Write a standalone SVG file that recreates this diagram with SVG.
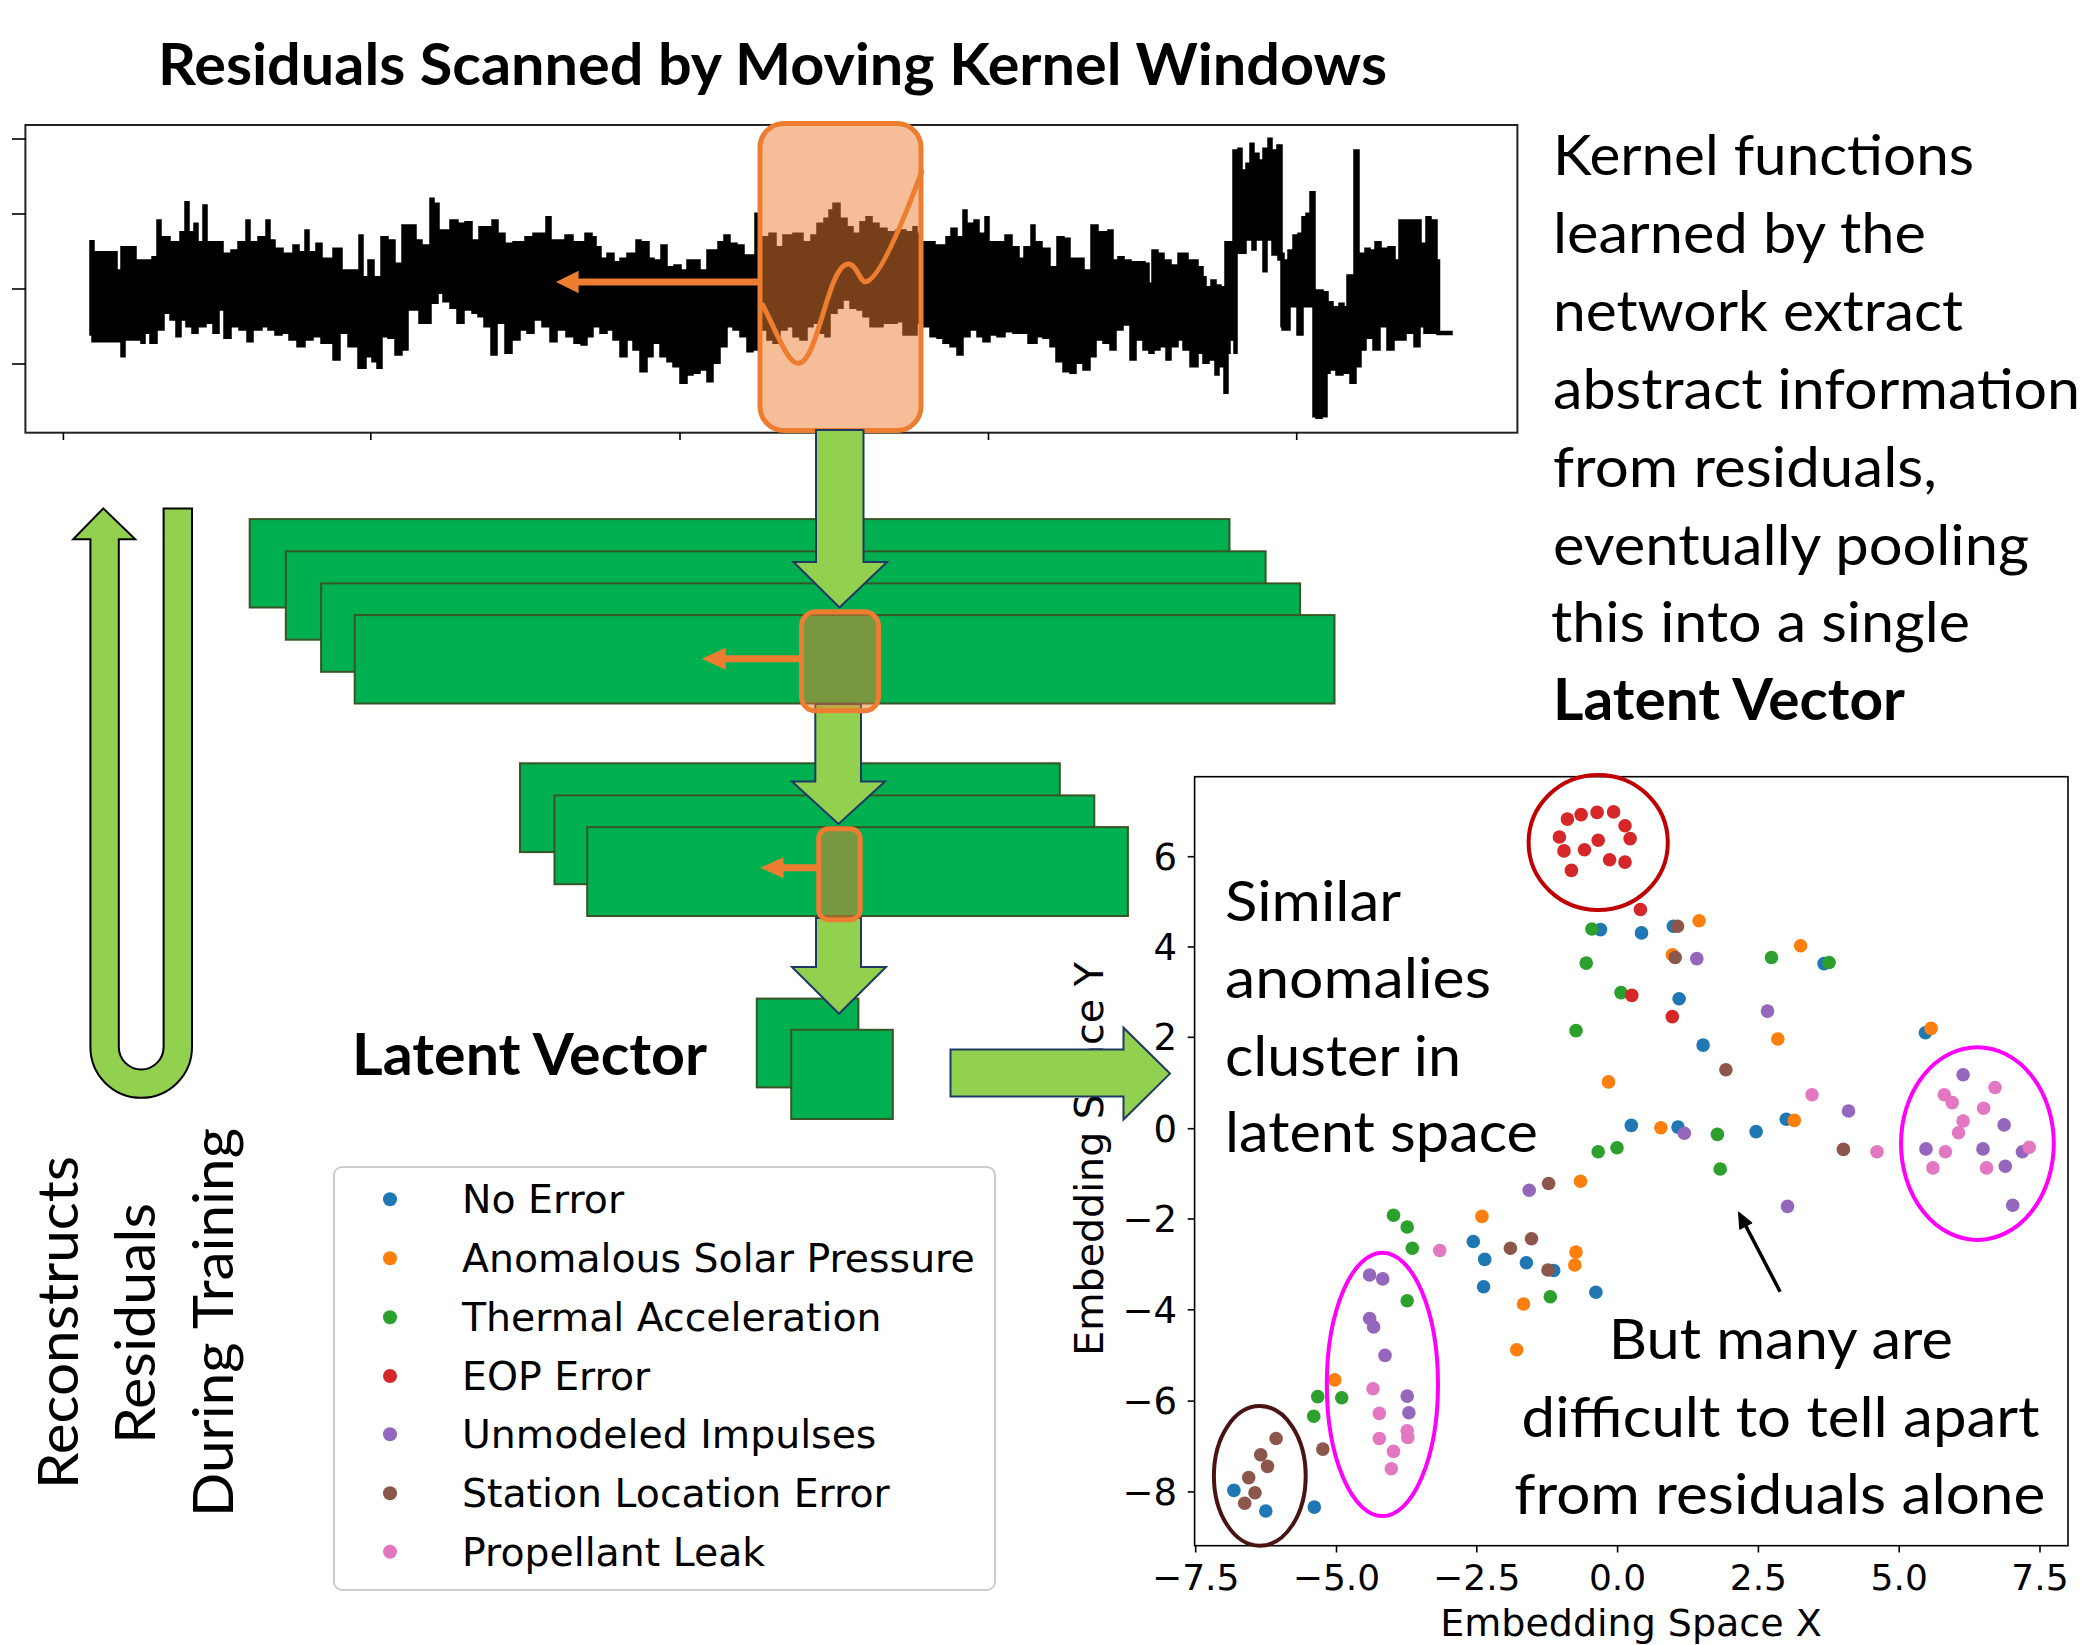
<svg xmlns="http://www.w3.org/2000/svg" width="2084" height="1645" viewBox="0 0 2084 1645">
<defs>
<style>
.cal{font-family:Lato,'Open Sans',sans-serif;font-size:57px;fill:#000}
.calb{font-family:Lato,'Open Sans',sans-serif;font-size:57px;font-weight:bold;fill:#000}
.dv{font-family:'DejaVu Sans',sans-serif;fill:#000}
.lay{fill:#00B050;stroke:#375623;stroke-width:2}
.garr{fill:#92D050;stroke:#1F3864;stroke-width:2;stroke-linejoin:miter}
.win{fill:#ED7D31;fill-opacity:0.5;stroke:#ED7D31;stroke-width:5}
.oarr{fill:#ED7D31}
.tick{stroke:#000;stroke-width:1.6}
.c0{fill:#1f77b4}.c1{fill:#ff7f0e}.c2{fill:#2ca02c}.c3{fill:#d62728}.c4{fill:#9467bd}.c5{fill:#8c564b}.c6{fill:#e377c2}
</style>
<clipPath id="axclip"><rect x="1194.6" y="776.7" width="873.4" height="769"/></clipPath>
</defs>
<rect width="2084" height="1645" fill="#fff"/>

<g id="title">
<text class="calb" x="158" y="85" textLength="1229" lengthAdjust="spacingAndGlyphs">Residuals Scanned by Moving Kernel Windows</text>
</g>

<g id="residual-plot">
<rect x="25.4" y="125" width="1492" height="307.7" fill="none" stroke="#222" stroke-width="2"/>
<g class="tick">
<line x1="12" y1="139" x2="25.4" y2="139"/><line x1="12" y1="214" x2="25.4" y2="214"/><line x1="12" y1="289" x2="25.4" y2="289"/><line x1="12" y1="364" x2="25.4" y2="364"/>
<line x1="63.4" y1="432.7" x2="63.4" y2="440"/><line x1="370.8" y1="432.7" x2="370.8" y2="440"/><line x1="680" y1="432.7" x2="680" y2="440"/><line x1="988.5" y1="432.7" x2="988.5" y2="440"/><line x1="1296.7" y1="432.7" x2="1296.7" y2="440"/>
</g>
<path id="waveform" fill="#000" stroke="#000" stroke-width="1.5" d="M90,335 V240.7 H94 V251.7 H117 V270 H121 V246.7 H136 V260 H152 V256.7 H157 V220 H161 V236.7 H170 V241.7 H180 V231.7 H185 V201.7 H189 V231.7 H194 V223.3 H198 V241.7 H203 V205 H207 V241.7 H223 V253.3 H231 V250 H238 V241.7 H246 V220 H250 V241.7 H258 V236.7 H266 V220 H270 V240 H275 V248.3 H283 V253.3 H293 V245 H299 V251.7 H305 V230 H309 V251.7 H316 V243.3 H322 V258.3 H333 V248.3 H342 V270 H359 V235 H363 V276.7 H368 V260 H374 V276.7 H381 V236.7 H388 V240 H395 V263.3 H402 V225 H416 V240 H422 V245 H430 V198.3 H434 V203.3 H439 V230 H450 V220 H458 V223.3 H465 V221.7 H472 V240 H479 V226.7 H492 V220 H498 V233.3 H505 V243.3 H513 V241.7 H525 V236.7 H533 V233.3 H546 V216.7 H551 V240 H565 V235 H573 V241.7 H585 V233.3 H592 V236.7 H596 V246.7 H601 V258.3 H607 V253.3 H614 V261.7 H620 V258.3 H627 V253.3 H636 V240 H641 V241.7 H649 V258.3 H654 V260 H661 V245 H667 V266.7 H674 V265 H681 V270 H687 V260 H700 V270 H707 V250 H718 V241.7 H724 V235 H730 V243.3 H737 V245 H744 V255 H755 V213.3 H758 V236.7 H769 V233.3 H776 V246.7 H783 V235 H793 V233.3 H803 V241.7 H811 V235 H817 V223.3 H824 V218.3 H829 V210 H833 V203.3 H840 V218.3 H847 V226.7 H853 V233.3 H860 V221.7 H866 V216.7 H872 V223.3 H879 V228.3 H887 V231.7 H896 V230 H906 V231.7 H913 V226.7 H917 V233.3 H922 V241.7 H935 V245 H946 V236.7 H951 V228.3 H957 V236.7 H963 V210 H967 V223.3 H974 V220 H979 V233.3 H985 V216.7 H989 V241.7 H1005 V235 H1012 V246.7 H1019 V258.3 H1024 V246.7 H1031 V225 H1035 V241.7 H1042 V248.3 H1050 V266.7 H1057 V236.7 H1064 V238.3 H1070 V258.3 H1084 V270 H1091 V225 H1098 V231.7 H1108 V230 H1113 V260 H1118 V256.7 H1124 V260 H1131 V261.7 H1145 V263.3 H1149 V283.3 H1152 V250 H1158 V253.3 H1164 V260 H1171 V265 H1178 V253.3 H1188 V260 H1198 V266.7 H1203 V276.7 H1206 V286.7 H1211 V280 H1216 V285 H1221 V286.7 H1225 V241.7 H1233 V150 H1238 V148.3 H1242 V170 H1246 V163.3 H1250 V143.3 H1254 V153.3 H1259 V160 H1263 V148.3 H1268 V138.3 H1272 V150 H1277 V145 H1282 V253.3 H1284 V260 H1288 V250 H1293 V235 H1298 V233.3 H1302 V216.7 H1306 V213.3 H1310 V191.7 H1315 V290 H1323 V291.7 H1328 V301.7 H1333 V306.7 H1339 V303.3 H1344 V306.7 H1347 V275 H1354 V150 H1359 V253.3 H1365 V248.3 H1370 V250 H1375 V241.7 H1381 V248.3 H1388 V246.7 H1395 V260 H1399 V220 H1421 V243.3 H1426 V216.7 H1431 V220 H1437 V260 H1439.5 V331.5 H1452 V334.5 H1437 V333.3 H1424 V326.7 H1420 V346.7 H1414 V333.3 H1406 V340 H1394 V350 H1387 V326.7 H1380 V350 H1373 V338.3 H1366 V350 H1361 V366.7 H1356 V383.3 H1350 V373.3 H1343 V375 H1336 V370 H1330 V373.3 H1327 V416.7 H1322 V418.3 H1316 V416.7 H1313 V306.7 H1303 V335 H1297 V306.7 H1290 V330 H1282 V326.7 H1281 V260 H1278 V255 H1272 V240 H1267 V271.7 H1263 V240 H1256 V250 H1252 V240 H1246 V253.3 H1237 V353.3 H1234 V340 H1230 V353.3 H1228 V393.3 H1224 V366.7 H1219 V375 H1215 V360 H1209 V363.3 H1203 V353.3 H1198 V366.7 H1190 V350 H1183 V340 H1178 V346.7 H1171 V360 H1166 V346.7 H1160 V350 H1154 V353.3 H1149 V350 H1143 V340 H1136 V360 H1130 V325 H1123 V330 H1116 V350 H1110 V343.3 H1103 V340 H1096 V356.7 H1090 V370 H1083 V363.3 H1076 V373.3 H1070 V371.7 H1063 V361.7 H1056 V346.7 H1050 V338.3 H1043 V336.7 H1037 V343.3 H1028 V333.3 H1013 V331.7 H1005 V336.7 H997 V335 H990 V341.7 H983 V336.7 H977 V330 H970 V336.7 H963 V355 H957 V346.7 H950 V343.3 H943 V338.3 H937 V336.7 H930 V326.7 H923 V323.3 H917 V335 H903 V321.7 H897 V323.3 H883 V326.7 H870 V316.7 H863 V310 H857 V308.3 H850 V300 H843 V308.3 H837 V313.3 H830 V336.7 H825 V333.3 H820 V323.3 H813 V326.7 H807 V340 H800 V336.7 H793 V326.7 H787 V330 H780 V343.3 H773 V340 H767 V330 H759 V350 H753 V351.7 H747 V336.7 H740 V330 H733 V326.7 H727 V346.7 H720 V363.3 H713 V381.7 H707 V370 H700 V373.3 H693 V375 H687 V383.3 H680 V366.7 H673 V361.7 H667 V356.7 H660 V343.3 H653 V356.7 H647 V371.7 H640 V350 H633 V340 H627 V356.7 H620 V340 H613 V330 H607 V333.3 H600 V326.7 H593 V336.7 H587 V345 H581 V343.3 H574 V336.7 H566 V330 H557 V341.7 H550 V326.7 H542 V320 H534 V333.3 H527 V330 H520 V340 H512 V353.3 H505 V323.3 H497 V355 H491 V326.7 H484 V316.7 H478 V313.3 H472 V310 H464 V323.3 H457 V308.3 H450 V301.7 H443 V293.3 H438 V303.3 H431 V323.3 H419 V310 H408 V350 H402 V355 H395 V338.3 H388 V336.7 H382 V368.3 H377 V361.7 H372 V356.7 H366 V368.3 H358 V346.7 H348 V333.3 H340 V360 H333 V343.3 H321 V336.7 H313 V340 H305 V346.7 H297 V340 H289 V333.3 H282 V335 H275 V330 H268 V326.7 H262 V330 H253 V341.7 H247 V330 H239 V326.7 H231 V338.3 H224 V310 H219 V333.3 H213 V323.3 H206 V326.7 H198 V333.3 H192 V326.7 H186 V320 H181 V336.7 H176 V320 H170 V313.3 H164 V330 H157 V343.3 H150 V333.3 H145 V343.3 H141 V340 H129 V340 H125 V356.7 H121 V341.7 H100 V341.7 H92 V335 Z"/>
</g>

<g id="conv-stack-1">
<rect class="lay" x="249.7" y="519.1" width="979.8" height="88.4"/>
<rect class="lay" x="285.8" y="551.3" width="979.8" height="88.4"/>
<rect class="lay" x="321.1" y="583.4" width="979" height="88.4"/>
<rect class="lay" x="354.7" y="615.1" width="979.8" height="88.4"/>
</g>
<g id="conv-stack-2">
<rect class="lay" x="520" y="763.3" width="539.8" height="88.8"/>
<rect class="lay" x="554.5" y="795.4" width="539.8" height="88.8"/>
<rect class="lay" x="587.2" y="827.1" width="540.7" height="88.9"/>
</g>
<g id="latent-squares">
<rect class="lay" x="756.8" y="998.6" width="101.6" height="88.8"/>
<rect class="lay" x="791.2" y="1029.8" width="101.6" height="89.2"/>
</g>

<g id="connectors">
<path class="garr" d="M815.3,704 H861 V781.6 H885 L838.5,824 L792,781.6 H815.3 Z"/>
<path class="garr" d="M816,918 H861 V967 H886 L839,1013.8 L792,967 H816 Z"/>
</g>

<g id="kernel-window-1">
<rect class="win" x="760" y="123.5" width="161" height="307" rx="24"/>
<path class="oarr" d="M760,278.5 H578.6 V270.7 L556,282 L578.6,293.3 V285.5 H760 Z"/>
<path d="M762.7,305 C778,335 788,364 798.3,363.3 C818,363 828,264 848.3,264 C857,264 860,283 866,281.7 C878,280 900,230 921.7,171.7" fill="none" stroke="#ED7D31" stroke-width="5" stroke-linecap="round"/>
</g>
<g id="connector-top">
<path class="garr" d="M816,430 H863.5 V562 H887 L839.5,607.5 L793.5,562 H816 Z"/>
</g>
<g id="kernel-window-2">
<rect class="win" x="801.5" y="611.8" width="77" height="99" rx="14"/>
<path class="oarr" d="M801.5,655.3 H725.8 V647.8 L701.7,658.8 L725.8,669.8 V662.3 H801.5 Z"/>
</g>
<g id="kernel-window-3">
<rect class="win" x="818.7" y="828.7" width="41.5" height="91" rx="10"/>
<path class="oarr" d="M818.7,864.3 H783.5 V857.3 L760.2,867.8 L783.5,878.3 V871.3 H818.7 Z"/>
</g>

<g id="latent-label">
<text class="calb" x="352" y="1075" textLength="355" lengthAdjust="spacingAndGlyphs">Latent Vector</text>
</g>

<g id="u-arrow">
<path d="M103.3,508.4 L135.2,539.2 H118.8 V1047 A22.4,22.4 0 0 0 163.6,1047 V508.4 H192 V1047 A50.8,50.8 0 0 1 90.4,1047 V539.2 H73.2 Z" fill="#92D050" stroke="#000" stroke-width="2"/>
</g>
<g id="reconstruct-label" class="cal" text-anchor="middle">
<text transform="translate(78.3,1322.5) rotate(-90)" textLength="333" lengthAdjust="spacingAndGlyphs">Reconstructs</text>
<text transform="translate(155,1323.5) rotate(-90)" textLength="241" lengthAdjust="spacingAndGlyphs">Residuals</text>
<text transform="translate(233,1322.5) rotate(-90)" textLength="389" lengthAdjust="spacingAndGlyphs">During Training</text>
</g>

<g id="legend">
<rect x="334" y="1167" width="661" height="423" rx="8" fill="#fff" stroke="#cccccc" stroke-width="2"/>
<circle class="c0" cx="390" cy="1199.3" r="7"/>
<circle class="c1" cx="390" cy="1258.3" r="7"/>
<circle class="c2" cx="390" cy="1317.3" r="7"/>
<circle class="c3" cx="390" cy="1376" r="7"/>
<circle class="c4" cx="390" cy="1434.3" r="7"/>
<circle class="c5" cx="390" cy="1493.3" r="7"/>
<circle class="c6" cx="390" cy="1551.7" r="7"/>
<g class="dv" font-size="39.4">
<text x="462" y="1213.3">No Error</text>
<text x="462" y="1272.3">Anomalous Solar Pressure</text>
<text x="462" y="1331.3">Thermal Acceleration</text>
<text x="462" y="1390">EOP Error</text>
<text x="462" y="1448.3">Unmodeled Impulses</text>
<text x="462" y="1507.3">Station Location Error</text>
<text x="462" y="1565.7">Propellant Leak</text>
</g>
</g>

<g id="scatter-plot">
<g class="tick">
<line x1="1187.7" y1="856.7" x2="1194.6" y2="856.7"/><line x1="1187.7" y1="947" x2="1194.6" y2="947"/><line x1="1187.7" y1="1037.3" x2="1194.6" y2="1037.3"/><line x1="1187.7" y1="1128.7" x2="1194.6" y2="1128.7"/><line x1="1187.7" y1="1219" x2="1194.6" y2="1219"/><line x1="1187.7" y1="1309.8" x2="1194.6" y2="1309.8"/><line x1="1187.7" y1="1401.1" x2="1194.6" y2="1401.1"/><line x1="1187.7" y1="1491.9" x2="1194.6" y2="1491.9"/>
<line x1="1195.7" y1="1545.7" x2="1195.7" y2="1552.5"/><line x1="1336.5" y1="1545.7" x2="1336.5" y2="1552.5"/><line x1="1476.8" y1="1545.7" x2="1476.8" y2="1552.5"/><line x1="1617.6" y1="1545.7" x2="1617.6" y2="1552.5"/><line x1="1758.4" y1="1545.7" x2="1758.4" y2="1552.5"/><line x1="1899.2" y1="1545.7" x2="1899.2" y2="1552.5"/><line x1="2040" y1="1545.7" x2="2040" y2="1552.5"/>
</g>
<g class="dv" font-size="37" text-anchor="end">
<text x="1177" y="869.7">6</text><text x="1177" y="960">4</text><text x="1177" y="1050.3">2</text><text x="1177" y="1141.7">0</text><text x="1177" y="1232">−2</text><text x="1177" y="1322.8">−4</text><text x="1177" y="1414.1">−6</text><text x="1177" y="1504.9">−8</text>
</g>
<g class="dv" font-size="36" text-anchor="middle">
<text x="1195.7" y="1590">−7.5</text><text x="1336.5" y="1590">−5.0</text><text x="1476.8" y="1590">−2.5</text><text x="1617.6" y="1590">0.0</text><text x="1758.4" y="1590">2.5</text><text x="1899.2" y="1590">5.0</text><text x="2040" y="1590">7.5</text>
</g>
<text class="dv" font-size="38" text-anchor="middle" x="1631" y="1636">Embedding Space X</text>
<text class="dv" font-size="39.5" text-anchor="middle" transform="translate(1102.7,1159) rotate(-90)">Embedding Space Y</text>
<g clip-path="url(#axclip)">
<g class="c0">
<circle cx="1600.5" cy="929.6" r="6.8"/><circle cx="1641.5" cy="932.9" r="6.8"/><circle cx="1673.4" cy="926.2" r="6.8"/><circle cx="1824" cy="963.6" r="6.8"/><circle cx="1679.1" cy="998.8" r="6.8"/><circle cx="1703.1" cy="1045.1" r="6.8"/><circle cx="1925.4" cy="1032.8" r="6.8"/><circle cx="1631.3" cy="1125.4" r="6.8"/><circle cx="1678" cy="1127.1" r="6.8"/><circle cx="1756.1" cy="1131.6" r="6.8"/><circle cx="1786.3" cy="1119.3" r="6.8"/><circle cx="1473.3" cy="1241.5" r="6.8"/><circle cx="1484.7" cy="1259.4" r="6.8"/><circle cx="1526.4" cy="1262.7" r="6.8"/><circle cx="1553.7" cy="1270.5" r="6.8"/><circle cx="1483.6" cy="1286.7" r="6.8"/><circle cx="1595.9" cy="1292.3" r="6.8"/><circle cx="1233.9" cy="1490.4" r="6.8"/><circle cx="1265.8" cy="1511" r="6.8"/><circle cx="1314.3" cy="1507.1" r="6.8"/>
</g>
<g class="c1">
<circle cx="1699.1" cy="920.7" r="6.8"/><circle cx="1800.6" cy="945.8" r="6.8"/><circle cx="1672.3" cy="954.7" r="6.8"/><circle cx="1777.8" cy="1039" r="6.8"/><circle cx="1608.5" cy="1081.9" r="6.8"/><circle cx="1931.1" cy="1028.4" r="6.8"/><circle cx="1660.9" cy="1127.7" r="6.8"/><circle cx="1794.3" cy="1120.4" r="6.8"/><circle cx="1580.5" cy="1181.2" r="6.8"/><circle cx="1481.9" cy="1216.4" r="6.8"/><circle cx="1576" cy="1252.1" r="6.8"/><circle cx="1574.8" cy="1265" r="6.8"/><circle cx="1523.5" cy="1304" r="6.8"/><circle cx="1516.7" cy="1349.8" r="6.8"/><circle cx="1334.8" cy="1379.9" r="6.8"/>
</g>
<g class="c2">
<circle cx="1591.9" cy="929" r="6.8"/><circle cx="1586.2" cy="963.1" r="6.8"/><circle cx="1771.5" cy="957.5" r="6.8"/><circle cx="1829.1" cy="962.5" r="6.8"/><circle cx="1621" cy="992.6" r="6.8"/><circle cx="1576" cy="1030.6" r="6.8"/><circle cx="1598.2" cy="1151.7" r="6.8"/><circle cx="1617" cy="1147.8" r="6.8"/><circle cx="1717.4" cy="1134.4" r="6.8"/><circle cx="1720.2" cy="1169" r="6.8"/><circle cx="1393.5" cy="1215.3" r="6.8"/><circle cx="1407.2" cy="1227" r="6.8"/><circle cx="1412.3" cy="1248.2" r="6.8"/><circle cx="1407.2" cy="1300.7" r="6.8"/><circle cx="1550.3" cy="1296.8" r="6.8"/><circle cx="1317.7" cy="1396.6" r="6.8"/><circle cx="1341.7" cy="1397.8" r="6.8"/><circle cx="1313.7" cy="1416.2" r="6.8"/>
</g>
<g class="c3">
<circle cx="1567.4" cy="819.1" r="6.8"/><circle cx="1581.1" cy="814.6" r="6.8"/><circle cx="1597.1" cy="812.4" r="6.8"/><circle cx="1613.6" cy="811.9" r="6.8"/><circle cx="1625" cy="825.8" r="6.8"/><circle cx="1630.1" cy="838.6" r="6.8"/><circle cx="1559.4" cy="837" r="6.8"/><circle cx="1598.2" cy="840.3" r="6.8"/><circle cx="1564" cy="850.9" r="6.8"/><circle cx="1584.5" cy="849.8" r="6.8"/><circle cx="1609.6" cy="859.8" r="6.8"/><circle cx="1625" cy="862.1" r="6.8"/><circle cx="1571.4" cy="870.4" r="6.8"/><circle cx="1640.4" cy="909.5" r="6.8"/><circle cx="1631.8" cy="995.4" r="6.8"/><circle cx="1672.3" cy="1016.6" r="6.8"/>
</g>
<g class="c4">
<circle cx="1696.8" cy="958.6" r="6.8"/><circle cx="1767.5" cy="1011.1" r="6.8"/><circle cx="1848.5" cy="1111" r="6.8"/><circle cx="1684.3" cy="1133.3" r="6.8"/><circle cx="1787.5" cy="1206.4" r="6.8"/><circle cx="1529.2" cy="1190.2" r="6.8"/><circle cx="1963.1" cy="1074.7" r="6.8"/><circle cx="2004.1" cy="1124.9" r="6.8"/><circle cx="1926" cy="1148.9" r="6.8"/><circle cx="1983" cy="1148.9" r="6.8"/><circle cx="2005.3" cy="1166.2" r="6.8"/><circle cx="2022.4" cy="1151.7" r="6.8"/><circle cx="2012.7" cy="1205.3" r="6.8"/><circle cx="1369.6" cy="1275" r="6.8"/><circle cx="1382.7" cy="1278.9" r="6.8"/><circle cx="1369.6" cy="1318.5" r="6.8"/><circle cx="1373.6" cy="1326.9" r="6.8"/><circle cx="1385" cy="1355.4" r="6.8"/><circle cx="1407.2" cy="1396.1" r="6.8"/><circle cx="1408.9" cy="1412.8" r="6.8"/>
</g>
<g class="c5">
<circle cx="1677.5" cy="926.2" r="6.8"/><circle cx="1675.2" cy="957.5" r="6.8"/><circle cx="1725.9" cy="1069.7" r="6.8"/><circle cx="1843.4" cy="1149.4" r="6.8"/><circle cx="1548.6" cy="1183.5" r="6.8"/><circle cx="1531.5" cy="1238.7" r="6.8"/><circle cx="1510.4" cy="1248.2" r="6.8"/><circle cx="1548" cy="1270" r="6.8"/><circle cx="1276.1" cy="1438.5" r="6.8"/><circle cx="1260.7" cy="1454.7" r="6.8"/><circle cx="1267.5" cy="1466.4" r="6.8"/><circle cx="1248.7" cy="1477.6" r="6.8"/><circle cx="1255" cy="1492.7" r="6.8"/><circle cx="1244.7" cy="1503.3" r="6.8"/><circle cx="1322.8" cy="1449.1" r="6.8"/>
</g>
<g class="c6">
<circle cx="1812" cy="1094.8" r="6.8"/><circle cx="1877" cy="1151.7" r="6.8"/><circle cx="1439.7" cy="1250.5" r="6.8"/><circle cx="1944.3" cy="1094.8" r="6.8"/><circle cx="1952.2" cy="1102.6" r="6.8"/><circle cx="1995" cy="1087.5" r="6.8"/><circle cx="1983.6" cy="1108.2" r="6.8"/><circle cx="1963.1" cy="1121" r="6.8"/><circle cx="1958.5" cy="1132.7" r="6.8"/><circle cx="1945.4" cy="1151.7" r="6.8"/><circle cx="1932.9" cy="1167.9" r="6.8"/><circle cx="1986.5" cy="1167.9" r="6.8"/><circle cx="2029.2" cy="1147.2" r="6.8"/><circle cx="1373" cy="1388.8" r="6.8"/><circle cx="1379.3" cy="1413.4" r="6.8"/><circle cx="1379.3" cy="1438.5" r="6.8"/><circle cx="1407.2" cy="1430.7" r="6.8"/><circle cx="1407.8" cy="1437.4" r="6.8"/><circle cx="1393.5" cy="1451.4" r="6.8"/><circle cx="1391.3" cy="1468.7" r="6.8"/>
</g>
</g>
<rect x="1194.6" y="776.7" width="873.4" height="769" fill="none" stroke="#000" stroke-width="1.6"/>
<g fill="none" stroke-width="4">
<ellipse cx="1598.2" cy="842.5" rx="69.6" ry="67.5" stroke="#C00000"/>
<ellipse cx="1977.4" cy="1143.6" rx="76.4" ry="96.3" stroke="#FF00FF"/>
<ellipse cx="1382.4" cy="1384.4" rx="55.6" ry="131.7" stroke="#FF00FF"/>
<ellipse cx="1259.8" cy="1475.9" rx="45.9" ry="69.8" stroke="#4A1414"/>
</g>
<g class="cal">
<text x="1225" y="920.7" textLength="176" lengthAdjust="spacingAndGlyphs">Similar</text>
<text x="1225" y="997.7" textLength="266" lengthAdjust="spacingAndGlyphs">anomalies</text>
<text x="1225" y="1075.8" textLength="236" lengthAdjust="spacingAndGlyphs">cluster in</text>
<text x="1225" y="1152.3" textLength="313" lengthAdjust="spacingAndGlyphs">latent space</text>
</g>
<g class="cal" text-anchor="middle">
<text x="1780.8" y="1358.7" textLength="344" lengthAdjust="spacingAndGlyphs">But many are</text>
<text x="1780.6" y="1436.9" textLength="518" lengthAdjust="spacingAndGlyphs">difficult to tell apart</text>
<text x="1779.8" y="1513.9" textLength="531" lengthAdjust="spacingAndGlyphs">from residuals alone</text>
</g>
<g id="black-arrow">
<line x1="1780.1" y1="1291.7" x2="1745.9" y2="1226.1" stroke="#000" stroke-width="3.5"/>
<polygon points="1738.5,1211.9 1752.1,1222.9 1739.7,1229.3" fill="#000" stroke="#000" stroke-width="1"/>
</g>
</g>

<g id="connector-to-plot">
<path class="garr" d="M950.5,1049.6 H1123.5 V1027.7 L1170,1073.6 L1123.5,1119.5 V1096.5 H950.5 Z"/>
</g>

<g id="description" class="cal">
<text x="1553" y="175" textLength="421" lengthAdjust="spacingAndGlyphs">Kernel functions</text>
<text x="1553" y="253" textLength="373" lengthAdjust="spacingAndGlyphs">learned by the</text>
<text x="1553" y="331" textLength="410" lengthAdjust="spacingAndGlyphs">network extract</text>
<text x="1553" y="409" textLength="527" lengthAdjust="spacingAndGlyphs">abstract information</text>
<text x="1553" y="487" textLength="384" lengthAdjust="spacingAndGlyphs">from residuals,</text>
<text x="1553" y="565" textLength="476" lengthAdjust="spacingAndGlyphs">eventually pooling</text>
<text x="1551" y="642" textLength="419" lengthAdjust="spacingAndGlyphs">this into a single</text>
<text x="1553" y="720" class="calb" textLength="352" lengthAdjust="spacingAndGlyphs">Latent Vector</text>
</g>
</svg>
